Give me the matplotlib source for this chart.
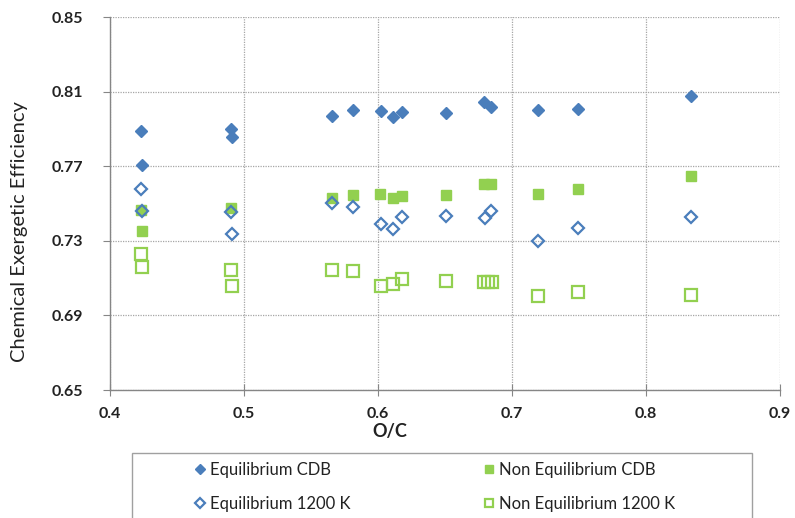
"""O/C 与化学㶲效率散点图复现。"""

import matplotlib

matplotlib.use("Agg")

import matplotlib.pyplot as plt
from matplotlib.patches import Rectangle

# 数据
eq_cdb_x = [0.423, 0.424, 0.49, 0.491, 0.5655, 0.581, 0.602, 0.611, 0.618, 0.651, 0.679, 0.684, 0.7196, 0.7495, 0.8336]
eq_cdb_y = [0.789, 0.771, 0.790, 0.786, 0.797, 0.800, 0.7995, 0.7963, 0.799, 0.7986, 0.8043, 0.802, 0.8002, 0.8008, 0.8075]

neq_cdb_x = [0.423, 0.424, 0.49, 0.5655, 0.581, 0.6015, 0.611, 0.618, 0.6505, 0.679, 0.684, 0.7196, 0.7495, 0.8336]
neq_cdb_y = [0.7465, 0.7355, 0.7477, 0.7528, 0.7549, 0.7551, 0.7528, 0.754, 0.7545, 0.7608, 0.7608, 0.7554, 0.7581, 0.7647]

eq_1200_x = [0.423, 0.424, 0.49, 0.491, 0.5655, 0.581, 0.602, 0.611, 0.618, 0.651, 0.680, 0.684, 0.7196, 0.7495, 0.8336]
eq_1200_y = [0.7576, 0.746, 0.7456, 0.7337, 0.7506, 0.7483, 0.7389, 0.7362, 0.743, 0.7435, 0.7421, 0.746, 0.7302, 0.7368, 0.7426]

neq_1200_x = [0.423, 0.424, 0.49, 0.491, 0.5655, 0.581, 0.602, 0.611, 0.618, 0.651, 0.679, 0.682, 0.685, 0.7196, 0.7495, 0.8336]
neq_1200_y = [0.723, 0.716, 0.7142, 0.7056, 0.7145, 0.7136, 0.7056, 0.707, 0.7096, 0.7083, 0.7078, 0.7078, 0.7078, 0.7007, 0.7026, 0.7012]

y_ticks = [0.65, 0.69, 0.73, 0.77, 0.81, 0.85]
x_ticks = [0.4, 0.5, 0.6, 0.7, 0.8, 0.9]

BLUE = "#4A7EBB"
GREEN = "#92D050"
AXIS_GRAY = "#868686"
GRID_GRAY = "#A6A6A6"
TEXT = "#222222"

plt.rcParams["font.family"] = ["Lato", "DejaVu Sans"]

fig = plt.figure(figsize=(7.95, 5.18), dpi=100)
ax = fig.add_axes([110 / 795, 1 - 390 / 518, 670 / 795, (390 - 17.3) / 518])

ax.plot(eq_cdb_x, eq_cdb_y, linestyle="none", marker="D", markersize=6.5,
        color=BLUE, markeredgecolor=BLUE, label="Equilibrium CDB", zorder=3)
ax.plot(neq_cdb_x, neq_cdb_y, linestyle="none", marker="s", markersize=7.8,
        color=GREEN, markeredgecolor=GREEN, label="Non Equilibrium CDB", zorder=2)
ax.plot(eq_1200_x, eq_1200_y, linestyle="none", marker="D", markersize=6.5,
        markerfacecolor="none", markeredgecolor=BLUE, markeredgewidth=1.6,
        label="Equilibrium 1200 K", zorder=4)
ax.plot(neq_1200_x, neq_1200_y, linestyle="none", marker="s", markersize=8.5,
        markerfacecolor="none", markeredgecolor=GREEN, markeredgewidth=1.6,
        label="Non Equilibrium 1200 K", zorder=2)

ax.set_xlim(0.4, 0.9)
ax.set_ylim(0.65, 0.85)
ax.set_xticks(x_ticks)
ax.set_yticks(y_ticks)
ax.set_xticklabels([f"{v:.1f}" for v in x_ticks])
ax.set_yticklabels([f"{v:.2f}" for v in y_ticks])

ax.grid(True, linestyle=(0, (1, 1)), color=GRID_GRAY, linewidth=0.9)
ax.set_axisbelow(True)
for side in ["top", "right"]:
    ax.spines[side].set_visible(False)
for side in ["left", "bottom"]:
    ax.spines[side].set_color(AXIS_GRAY)
    ax.spines[side].set_linewidth(1.0)

ax.tick_params(axis="y", direction="out", length=5, color=AXIS_GRAY,
               labelsize=11.5, pad=14, labelcolor=TEXT)
ax.tick_params(axis="x", direction="inout", length=8, color=AXIS_GRAY,
               labelsize=11.5, pad=8, labelcolor=TEXT)
for lbl in ax.get_xticklabels() + ax.get_yticklabels():
    lbl.set_fontweight("bold")

# 坐标轴标题
fig.text(390 / 795, 1 - 431 / 518, "O/C", fontsize=13, fontweight="bold",
         color=TEXT, ha="center", va="center")
fig.text(20 / 795, 1 - 232 / 518, "Chemical Exergetic Efficiency", fontsize=14.5,
         color=TEXT, rotation=90, ha="center", va="center")

# 图例外框
fig.patches.append(Rectangle((132 / 795, -0.01), 620 / 795, (518 - 452.7) / 518 + 0.01,
                             transform=fig.transFigure, facecolor="none",
                             edgecolor="#A0A0A0", linewidth=1.0))

handles, labels = ax.get_legend_handles_labels()
order = [0, 2, 1, 3]
fig.legend([handles[i] for i in order], [labels[i] for i in order],
           loc="upper left", bbox_to_anchor=(180 / 795, 1 - 447 / 518),
           ncol=2, frameon=False, fontsize=12, handlelength=0.6,
           handletextpad=0.3, columnspacing=8.0, labelspacing=1.05,
           markerscale=0.75, labelcolor=TEXT)

fig.savefig("out.png", dpi=100)
